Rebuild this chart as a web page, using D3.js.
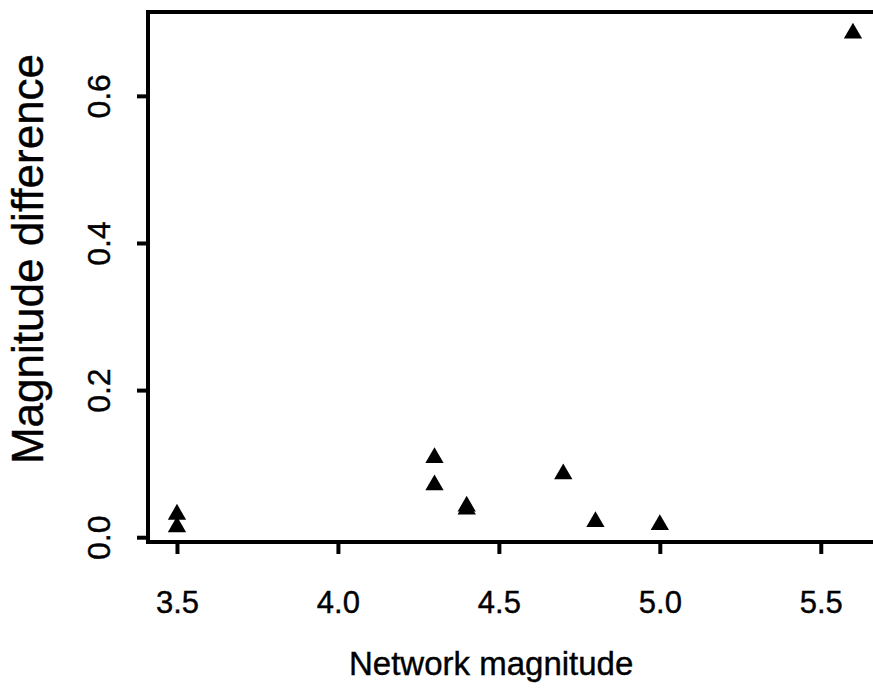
<!DOCTYPE html>
<html>
<head>
<meta charset="utf-8">
<script src="https://cdn.jsdelivr.net/npm/d3@7"></script>
<style>
	body { margin: 0; background: #fff; }
	svg { display: block; font-family: 'Liberation Sans', Arial, Helvetica, sans-serif; }
	.tick line { stroke: #000; stroke-width: 4; }
	text { stroke: #000; stroke-width: 0.4px; }
</style>
</head>
<body>
<svg id="chart"></svg>
<script>
// network magnitude (x) and magnitude difference (y)
const networkMagnitude = [3.5, 3.5, 4.3, 4.3, 4.4, 4.4, 4.7, 4.8, 5.0, 5.6];
const magnitudeDiff = [0.031, 0.014, 0.108, 0.071, 0.042, 0.038, 0.086, 0.021, 0.017, 0.685];

const xTicks = [3.5, 4.0, 4.5, 5.0, 5.5];
const yTicks = [0.0, 0.2, 0.4, 0.6];

const width = 873;
const height = 691;
const margin = { top: 12, right: -7, bottom: 149, left: 148 };

const svg = d3.select('#chart')
	.attr('width', width)
	.attr('height', height);

// R style axis limits: data range padded by 4%
const x = d3.scaleLinear()
	.domain([3.41, 5.684])
	.range([margin.left, width - margin.right]);

const y = d3.scaleLinear()
	.domain([-0.0065, 0.714])
	.range([height - margin.bottom, margin.top]);

// box round the plot region
svg.append('rect')
	.attr('x', margin.left)
	.attr('y', margin.top)
	.attr('width', width - margin.right - margin.left)
	.attr('height', height - margin.bottom - margin.top)
	.attr('fill', 'none')
	.attr('stroke', '#000')
	.attr('stroke-width', 4);

// x axis
const xAxis = svg.append('g')
	.attr('transform', `translate(0,${height - margin.bottom})`)
	.call(d3.axisBottom(x).tickValues(xTicks).tickSize(12).tickFormat(d3.format('.1f')));
xAxis.select('.domain').remove();
xAxis.selectAll('text')
	.attr('y', 71)
	.attr('dy', 0)
	.attr('fill', '#000')
	.style('font-size', '31px');

// y axis, labels turned like R's las = 0
const yAxis = svg.append('g')
	.attr('transform', `translate(${margin.left},0)`)
	.call(d3.axisLeft(y).tickValues(yTicks).tickSize(11).tickFormat(d3.format('.1f')));
yAxis.select('.domain').remove();
yAxis.selectAll('text')
	.attr('transform', 'rotate(-90)')
	.attr('x', 0)
	.attr('y', -38)
	.attr('dy', 0)
	.attr('text-anchor', 'middle')
	.attr('fill', '#000')
	.style('font-size', '32px');

// axis titles
svg.append('text')
	.attr('x', 349)
	.attr('y', 675)
	.attr('text-anchor', 'start')
	.style('font-size', '33px')
	.text('Network magnitude');

svg.append('text')
	.attr('transform', 'translate(43,259) rotate(-90)')
	.attr('text-anchor', 'middle')
	.style('font-size', '44px')
	.text('Magnitude difference');

// points, filled triangles
const points = networkMagnitude.map((d, i) => ({ x: d, y: magnitudeDiff[i] }));

svg.append('g')
	.selectAll('path')
	.data(points)
	.join('path')
	.attr('transform', (d) => `translate(${x(d.x)},${y(d.y)})`)
	.attr('d', d3.symbol(d3.symbolTriangle, 145))
	.attr('fill', '#000');
</script>
</body>
</html>
